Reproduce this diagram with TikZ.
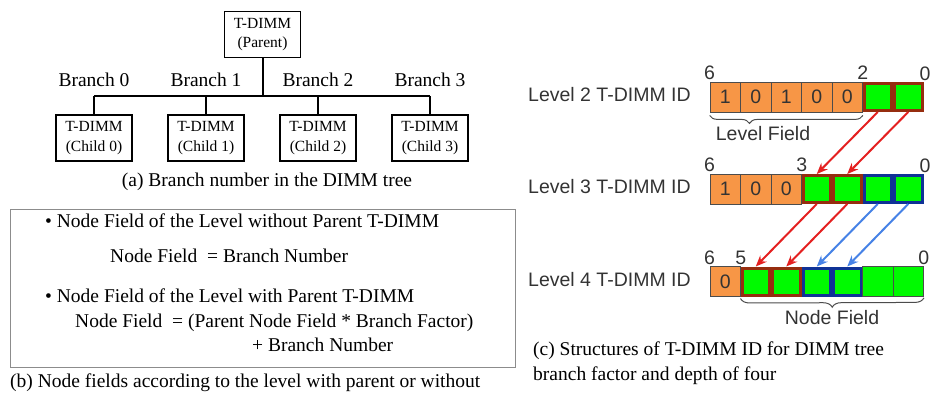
\documentclass[tikz,border=0pt]{standalone}
\usepackage{fontspec}
\setmainfont{Liberation Serif}
\setsansfont{Liberation Sans}
\usetikzlibrary{positioning,arrows.meta,decorations.pathreplacing}

\definecolor{idorange}{RGB}{247,150,70}
\definecolor{idgreen}{RGB}{0,250,0}
\definecolor{framebrown}{RGB}{150,45,15}
\definecolor{frameblue}{RGB}{15,50,150}
\definecolor{arrowred}{RGB}{228,32,32}
\definecolor{arrowblue}{RGB}{70,130,230}

\tikzset{
  dimmbox/.style={draw, line width=1.5pt, minimum width=76pt, minimum height=46pt,
    inner sep=0pt, align=center, font=\fontsize{15.5}{19.5}\selectfont},
  treeline/.style={line width=2pt},
  serifline/.style={anchor=west, inner sep=0pt, text height=13pt, text depth=4pt,
    font=\fontsize{19.5}{23}\selectfont},
  sansline/.style={anchor=west, inner sep=0pt, text height=13pt, text depth=4pt,
    text=black!80, font=\sffamily\fontsize{19.5}{23}\selectfont},
  idcell/.style={draw=black!70, line width=0.8pt, minimum width=30.5pt, minimum height=30pt,
    inner sep=0pt, text=black!80, font=\sffamily\fontsize{19.5}{23}\selectfont},
  orangecell/.style={idcell, fill=idorange},
  greencell/.style={idcell, fill=idgreen},
  redcell/.style={idcell, fill=idgreen, draw=framebrown, line width=3pt,
    minimum width=27.5pt, minimum height=27pt},
  bluecell/.style={idcell, fill=idgreen, draw=frameblue, line width=3pt,
    minimum width=27.5pt, minimum height=27pt},
  bitnum/.style={anchor=south, inner sep=1.5pt, text=black!80,
    font=\sffamily\fontsize{19.5}{23}\selectfont},
  fieldbrace/.style={draw=black!70, line width=1pt, decorate},
  moveline/.style={line width=2pt, -{Stealth[length=11pt, width=9pt]}}
}

\begin{document}
\begin{tikzpicture}[x=1pt,y=-1pt]
\useasboundingbox (0,0) rectangle (930,392);

% (a) branch numbers in the tree
\node[dimmbox] (parent) at (262.5,34.5) {T-DIMM\\(Parent)};
\coordinate (bus) at (262.5,96);
\foreach \i in {0,...,3}{
  \node[dimmbox] (child\i) at (94+112*\i,138) {T-DIMM\\(Child \i)};
  \node[serifline, anchor=center] (branch\i) at (94+112*\i,82) {Branch \i};
}
\draw[treeline] (parent.south) -- (bus);
\draw[treeline] (child0.north |- bus) -- (child3.north |- bus);
\foreach \i in {0,...,3}
  \draw[treeline] (child\i.north |- bus) -- (child\i.north);
\node[serifline, anchor=center] (capa) at (267,182) {(a) Branch number in the DIMM tree};

% (b) node field rules
\node[draw=black!45, line width=1.2pt, inner sep=0pt, minimum width=505pt,
  minimum height=158pt, anchor=north west] (fieldbox) at (10,209) {};
\node[serifline] (rule1) at (45,222.5) {\textbullet\ Node Field of the Level without Parent T-DIMM};
\node[serifline] (eq1) at (110,257.5) {Node Field~ = Branch Number};
\node[serifline] (rule2) at (45,298) {\textbullet\ Node Field of the Level with Parent T-DIMM};
\node[serifline] (eq2) at (75,323) {Node Field~ = (Parent Node Field * Branch Factor)};
\node[serifline] (eq2b) at (252,347) {+ Branch Number};
\node[serifline] (capb) at (10,383) {(b) Node fields according to the level with parent or without};

% (c) T-DIMM ID structures
\node[sansline] (lv2) at (528,97) {Level 2 T-DIMM ID};
\foreach \b [count=\i from 0] in {1,0,1,0,0}
  \node[orangecell] (l2c\i) at (725.25+30.5*\i,97) {\b};
\foreach \i in {5,6}
  \node[redcell] (l2c\i) at (725.25+30.5*\i,97) {};

\node[sansline] (lv3) at (528,189) {Level 3 T-DIMM ID};
\foreach \b [count=\i from 0] in {1,0,0}
  \node[orangecell] (l3c\i) at (725.25+30.5*\i,189) {\b};
\foreach \i in {3,4}
  \node[redcell] (l3c\i) at (725.25+30.5*\i,189) {};
\foreach \i in {5,6}
  \node[bluecell] (l3c\i) at (725.25+30.5*\i,189) {};

\node[sansline] (lv4) at (528,281.5) {Level 4 T-DIMM ID};
\node[orangecell] (l4c0) at (725.25,281.5) {0};
\foreach \i in {1,2}
  \node[redcell] (l4c\i) at (725.25+30.5*\i,281.5) {};
\foreach \i in {3,4}
  \node[bluecell] (l4c\i) at (725.25+30.5*\i,281.5) {};
\foreach \i in {5,6}
  \node[greencell] (l4c\i) at (725.25+30.5*\i,281.5) {};

% bit positions
\node[bitnum] (l2b6) at (l2c0.north west) {6};
\node[bitnum] (l2b2) at (l2c4.north east) {2};
\node[bitnum] (l2b0) at ([xshift=1.5pt]l2c6.north east) {0};
\node[bitnum] (l3b6) at (l3c0.north west) {6};
\node[bitnum] (l3b3) at (l3c2.north east) {3};
\node[bitnum] (l3b0) at ([xshift=1.5pt]l3c6.north east) {0};
\node[bitnum] (l4b6) at (l4c0.north west) {6};
\node[bitnum] (l4b5) at (l4c0.north east) {5};
\node[bitnum] (l4b0) at (l4c6.north east) {0};

% fields
\draw[fieldbrace, decoration={brace, mirror, amplitude=8pt, aspect=0.26}]
  ([yshift=-3pt]l2c0.south west) -- ([yshift=-3pt]l2c4.south east);
\node[sansline, anchor=center] (levelfield) at (763,136) {Level Field};
\draw[fieldbrace, decoration={brace, mirror, amplitude=9pt}]
  ([yshift=-2pt]l4c1.south west) -- ([yshift=-1pt]l4c6.south east);
\node[sansline, anchor=center] (nodefield) at (832,320) {Node Field};

% field moves
\draw[moveline, arrowred] (l2c5.south) -- (l3c3.north);
\draw[moveline, arrowred] (l2c6.south) -- (l3c4.north);
\draw[moveline, arrowred] (l3c3.south) -- (l4c1.north);
\draw[moveline, arrowred] (l3c4.south) -- (l4c2.north);
\draw[moveline, arrowblue] (l3c5.south) -- (l4c3.north);
\draw[moveline, arrowblue] (l3c6.south) -- (l4c4.north);

\node[serifline, align=left, text height=, text depth=, anchor=north west, font=\fontsize{19.5}{25}\selectfont]
  (capc) at (533,342) {(c) Structures of T-DIMM ID for DIMM tree\\branch factor and depth of four};
\end{tikzpicture}
\end{document}
